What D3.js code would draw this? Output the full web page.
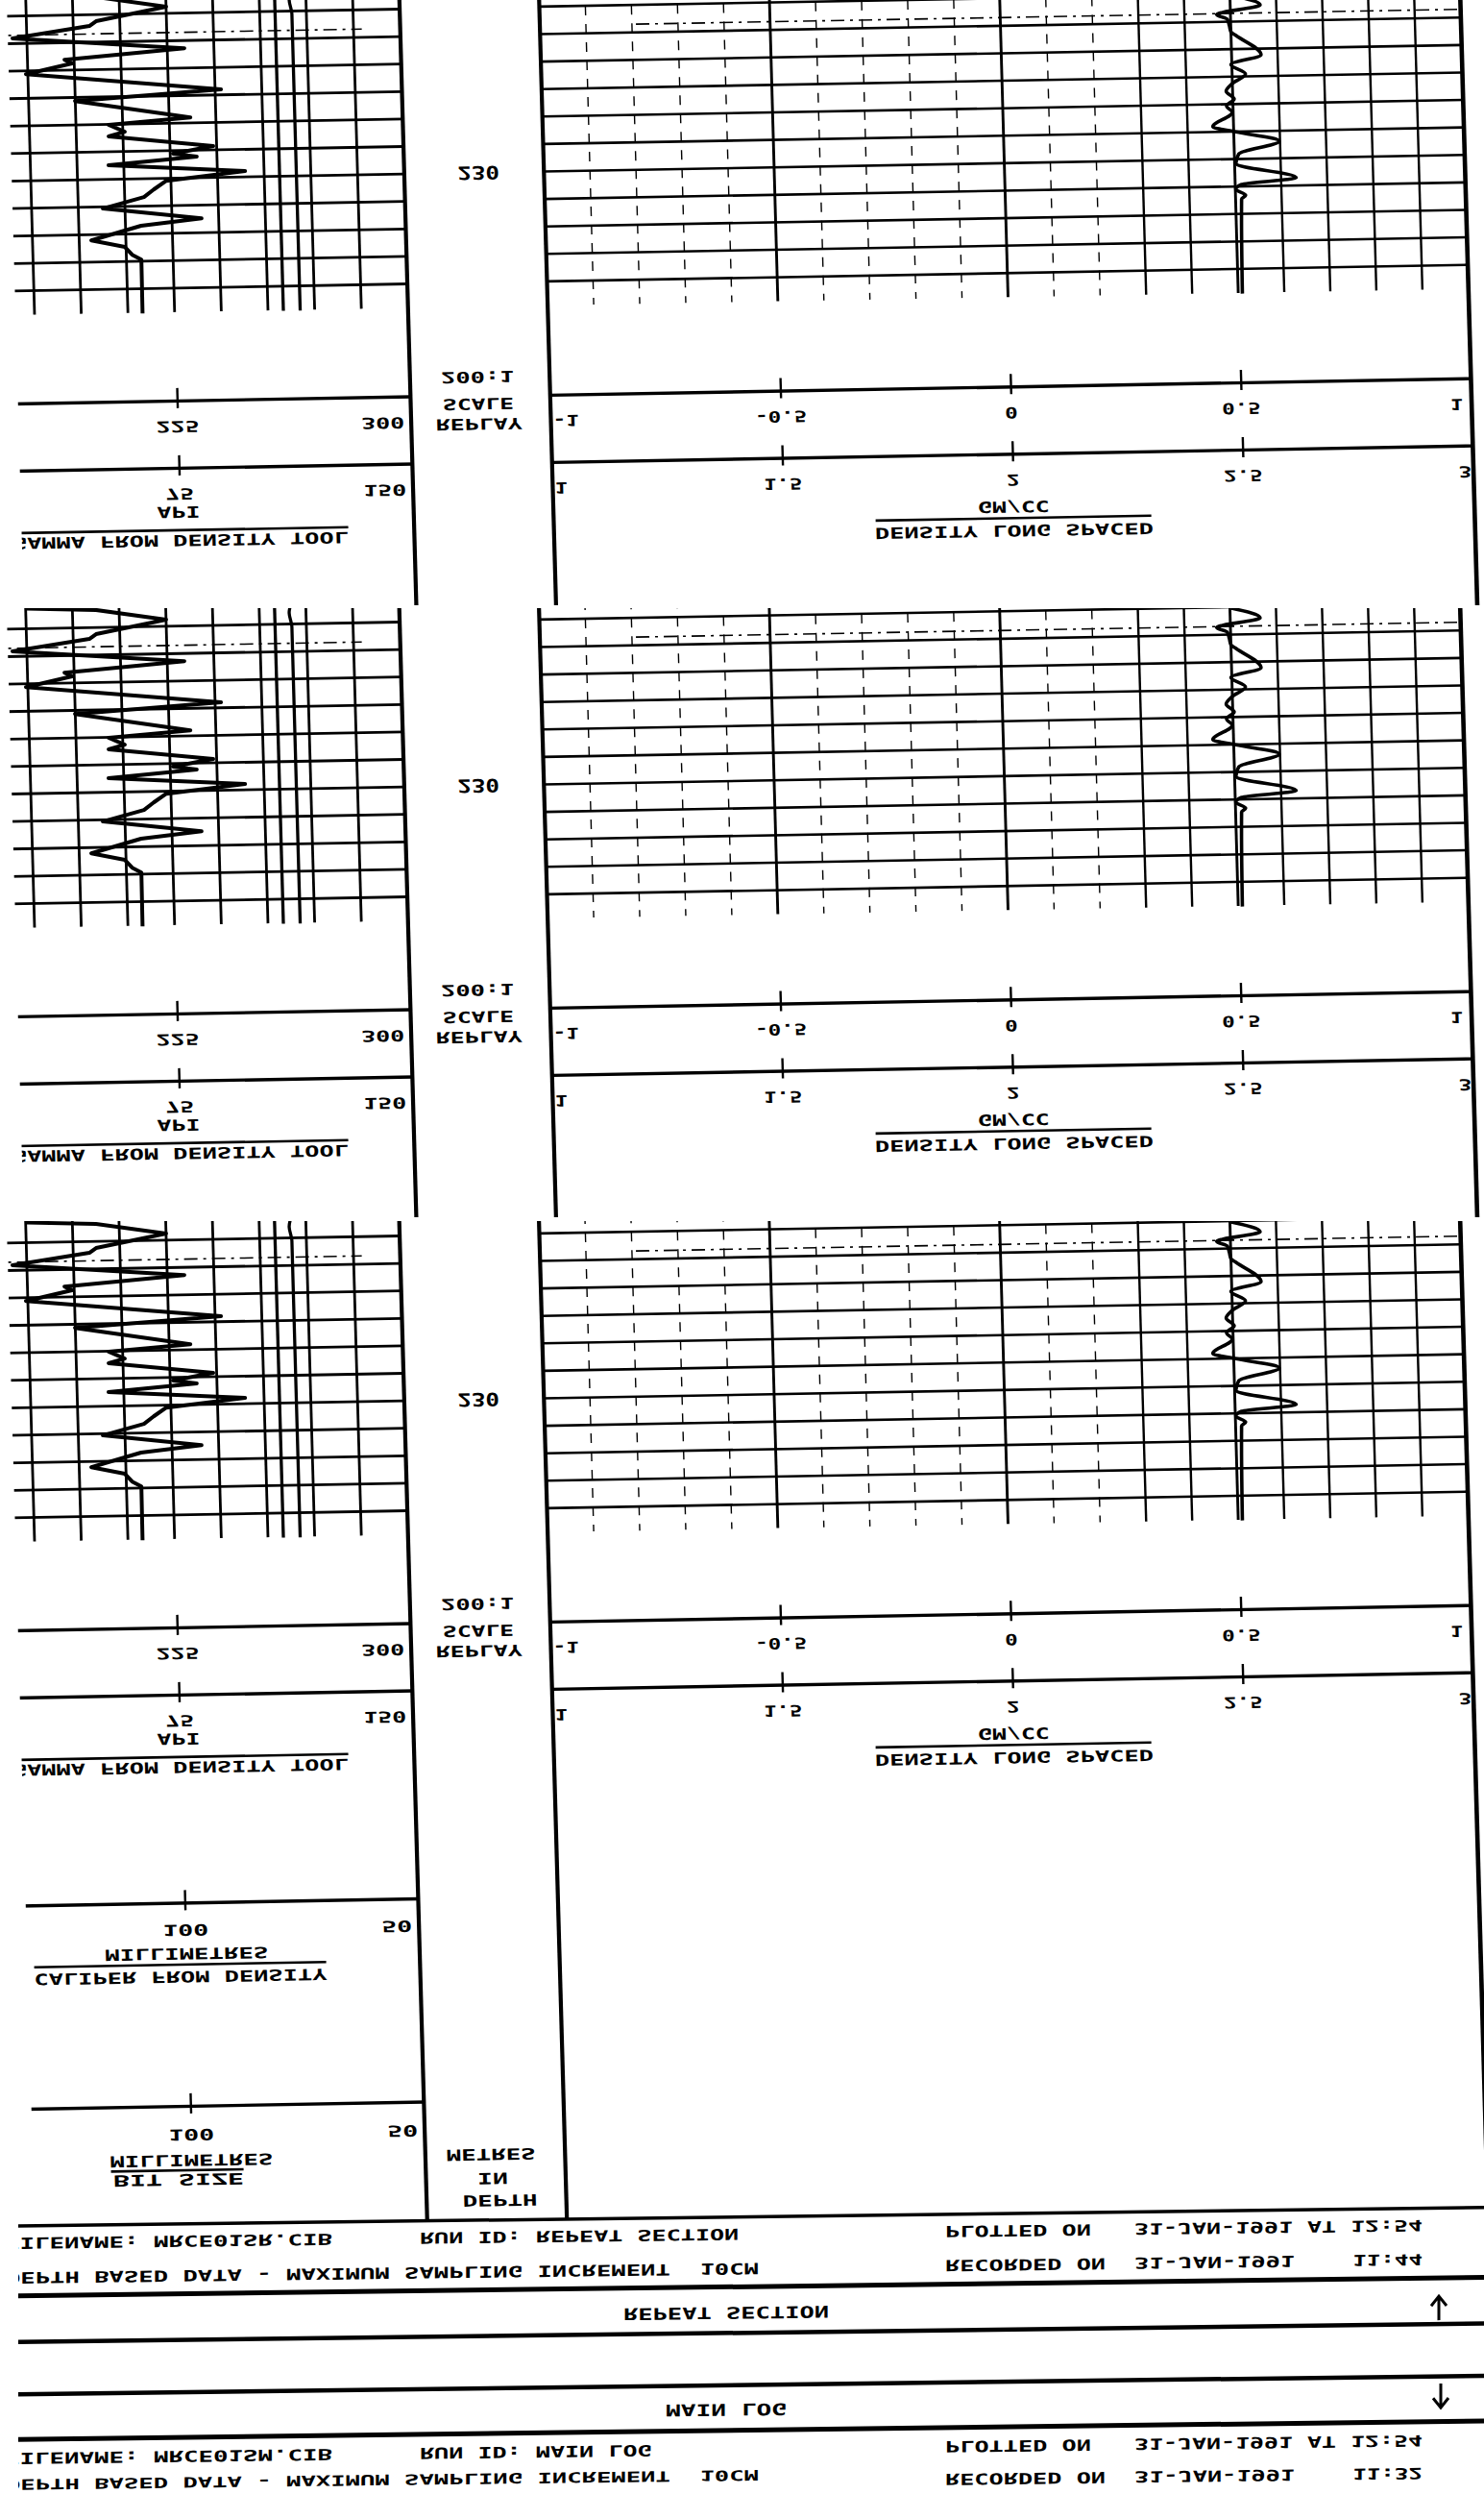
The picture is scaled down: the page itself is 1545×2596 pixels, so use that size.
<!DOCTYPE html>
<html><head><meta charset="utf-8">
<script src="https://cdn.jsdelivr.net/npm/d3@7"></script>
<style>body{margin:0;background:#fff}svg{display:block}text{white-space:pre}</style>
</head><body>
<svg id="c" width="1545" height="2596"></svg>
<script>
// ---------------- DATA ----------------
// Gamma ray from density tool (API) versus depth (m)
const gammaDepth = [236.73,236.64,236.24,235.76,235.59,235.19,234.72,234.38,234.24,233.88,233.20,232.87,232.20,231.98,231.72,231.56,231.14,230.89,230.77,230.51,230.21,229.91,229.60,229.33,228.94,228.52,228.29,227.79,227.53,227.24,227.06,225.10];
const gammaAPI   = [30.4,52.6,75.0,52.4,50.2,25.4,80.5,41.9,44.3,29.4,91.9,44.9,81.8,55.5,60.6,55.4,88.9,75.9,83.5,55.1,98.9,73.5,69.4,66.2,52.9,84.5,65.0,48.9,59.6,61.9,64.8,64.7];
// Density long spaced (GM/CC) versus depth (m)
const densDepth = [235.96,235.59,235.27,235.09,234.85,234.63,234.49,233.78,233.44,233.09,232.74,232.47,232.19,231.94,231.70,231.19,230.99,230.62,230.19,229.84,229.28,229.07,228.90,228.68,228.54,225.10];
const densGMCC  = [2.503,2.565,2.470,2.493,2.497,2.500,2.511,2.564,2.498,2.529,2.499,2.486,2.503,2.486,2.498,2.455,2.505,2.598,2.510,2.503,2.633,2.514,2.501,2.522,2.513,2.509];
// Caliper and bit size (mm)
const caliperDepth = [236.9,236.4,235.9,225.1];
const caliperMM    = [72.8,73.6,73.1,73.1];
const bitDepth = [236.9,225.1];
const bitMM    = [76.7,76.7];
// depth annotation
const depthLabelValue = 230;
const depthGrid = [226,227,228,229,230,231,232,233,234,235,236];
const markerDepth = 235.3;
// scale tick values and labels
const gammaTicks = [75,150], gammaLabels = ['75','150'];
const gammaBTicks = [225,300], gammaBLabels = ['225','300'];
const drhoTicks = [-1,-0.5,0,0.5,1], drhoLabels = ['-1','-0.5','0','0.5','1'];
const densTicks = [1,1.5,2,2.5,3], densLabels = ['1','1.5','2','2.5','3'];
const calTicks = [100,50], calLabels = ['100','50'];
const bitTicks = [100,50], bitLabels = ['100','50'];
const depthHeader = ['200:1','SCALE','REPLAY'];
const gammaTitle = 'GAMMA FROM DENSITY TOOL', gammaUnit = 'API';
const densTitle = 'DENSITY LONG SPACED', densUnit = 'GM/CC';
const calTitle = 'CALIPER FROM DENSITY', bitTitle = 'BIT SIZE', mmUnit = 'MILLIMETRES';
const depthUnits = ['METRES','IN','DEPTH'];
const infoRepeat = ['FILENAME: MRCE01SR.CIB','RUN ID: REPEAT SECTION','PLOTTED ON','31-JAN-1991 AT 12:54','DEPTH BASED DATA - MAXIMUM SAMPLING INCREMENT  10CM','RECORDED ON','31-JAN-1991','11:44'];
const infoMain   = ['FILENAME: MRCE01SM.CIB','RUN ID: MAIN LOG','PLOTTED ON','31-JAN-1991 AT 12:54','DEPTH BASED DATA - MAXIMUM SAMPLING INCREMENT  10CM','RECORDED ON','31-JAN-1991','11:32'];
const sectionTitles = ['REPEAT SECTION','MAIN LOG'];

// ---------------- LAYOUT ----------------
const W = 1545, H = 2596;
const SHX = 0.028, SHY = -0.018;
const T1L = -70.4, T1R = 415.6, T2L = 561, T2R = 1519.6, CLIPX = 7;
const panels = [
  {off:0,    top:-80,  bottom:630,  full:false},
  {off:638,  top:633,  bottom:1267, full:false},
  {off:1277, top:1271, bottom:2311, full:true}
];

const yScale = d3.scaleLinear().domain([230,229]).range([188.6,217.2]);
const xGamma = d3.scaleLinear().domain([0,150]).range([T1L,T1R]);
const xGammaB = d3.scaleLinear().domain([150,300]).range([T1L,T1R]);
const xDens = d3.scaleLinear().domain([1,3]).range([T2L,T2R]);
const xDrho = d3.scaleLinear().domain([-1,1]).range([T2L,T2R]);
const xCal = d3.scaleLinear().domain([150,50]).range([T1L,T1R]);

const svg = d3.select('#c');
svg.append('rect').attr('width',W).attr('height',H).attr('fill','#fff');
const defs = svg.append('defs');
defs.append('clipPath').attr('id','lclip').append('rect')
  .attr('x',CLIPX).attr('y',-3000).attr('width',4000).attr('height',9000);

function ln(g,x1,y1,x2,y2,w,dash){
  const l = g.append('line').attr('x1',x1).attr('y1',y1).attr('x2',x2).attr('y2',y2)
    .attr('stroke','#000').attr('stroke-width',w).attr('stroke-linecap','butt');
  if(dash) l.attr('stroke-dasharray',dash);
  return l;
}
// vertically mirrored text (as in the reference)
function ftext(g,str,x,y,opt={}){
  const size = opt.size||16, cw = opt.cw||15, anchor = opt.anchor||'middle';
  const len = opt.len || str.length*cw;
  const x0 = anchor==='middle' ? x-len/2 : anchor==='end' ? x-len : x;
  g.append('text')
    .attr('transform',`translate(${x0},${y}) scale(1,-1)`)
    .attr('x',0).attr('y',0)
    .attr('dominant-baseline','central')
    .attr('xml:space','preserve')
    .attr('font-family','DejaVu Sans Mono, monospace')
    .attr('font-weight','bold')
    .attr('font-size',size)
    .attr('fill','#000')
    .attr('textLength',len).attr('lengthAdjust','spacingAndGlyphs')
    .text(str);
}
function scaleLine(g,scale,y,ticks){
  const ax = d3.axisBottom(scale).tickValues(ticks).tickSizeInner(8).tickSizeOuter(0).tickFormat('');
  const a = g.append('g').attr('transform',`translate(0,${y})`).call(ax);
  a.select('.domain').attr('stroke','#000').attr('stroke-width',3.4);
  a.selectAll('.tick line').attr('y1',-13).attr('y2',8).attr('stroke','#000').attr('stroke-width',2.4);
}
function scaleLabels(g,scale,ticks,labels,y,lo,hi,opt={}){
  ticks.forEach((v,i)=>{
    const x = scale(v);
    if (Math.abs(x-lo)<1) ftext(g,labels[i],lo+2,y,{anchor:'start',cw:opt.cw||13});
    else if (Math.abs(x-hi)<1) ftext(g,labels[i],hi-(opt.endPad||7),y,{anchor:'end',cw:opt.cw||14});
    else ftext(g,labels[i],x,y,{cw:opt.cw||14});
  });
}

function drawPanel(g, full){
  const gTop = -40, gBot = 328;
  // ---- track 1 grid ----
  d3.range(15,150,15).forEach(v=> ln(g,xGamma(v),gTop,xGamma(v),gBot,2.8));
  depthGrid.forEach(d=>{
    ln(g,T1L,yScale(d),T1R,yScale(d),2.8);
    ln(g,T2L,yScale(d),T2R,yScale(d),2.6);
  });
  // marker line (tracks only)
  ln(g,T1L,yScale(markerDepth),T1R-40,yScale(markerDepth),1.6,'14,6,3,6');
  ln(g,T2L+100,yScale(markerDepth),T2R,yScale(markerDepth),1.6,'14,6,3,6');
  // ---- tracks 2/3 grid ----
  d3.range(1.1,3.0,0.1).forEach(v=>{
    const vv = Math.round(v*10)/10;
    const major = Math.abs(vv-1.5)<1e-6 || Math.abs(vv-2)<1e-6 || Math.abs(vv-2.5)<1e-6;
    if (major) ln(g,xDens(vv),gTop,xDens(vv),gBot,2.9);
    else if (vv < 2.25) ln(g,xDens(vv),gTop,xDens(vv),gBot,1.4,'10,9');
    else ln(g,xDens(vv),gTop,xDens(vv),gBot,2.4);
  });
  // ---- curves ----
  const gLine = d3.line().x(i=>xGamma(gammaAPI[i])).y(i=>yScale(gammaDepth[i]));
  g.append('path').attr('d',gLine(d3.range(gammaDepth.length)))
    .attr('fill','none').attr('stroke','#000').attr('stroke-width',4).attr('stroke-linejoin','round');
  const cLine = d3.line().x(i=>xCal(caliperMM[i])).y(i=>yScale(caliperDepth[i])).curve(d3.curveMonotoneY);
  g.append('path').attr('d',cLine(d3.range(caliperDepth.length)))
    .attr('fill','none').attr('stroke','#000').attr('stroke-width',3.3);
  const bLine = d3.line().x(i=>xCal(bitMM[i])).y(i=>yScale(bitDepth[i]));
  g.append('path').attr('d',bLine(d3.range(bitDepth.length)))
    .attr('fill','none').attr('stroke','#000').attr('stroke-width',3.3);
  const dLine = d3.line().x(i=>xDens(densGMCC[i])).y(i=>yScale(densDepth[i])).curve(d3.curveMonotoneY);
  g.append('path').attr('d',dLine(d3.range(densDepth.length)))
    .attr('fill','none').attr('stroke','#000').attr('stroke-width',3.6).attr('stroke-linejoin','round');
  // ---- track borders ----
  ln(g,T1R,gTop,T1R,1100,4.2);
  ln(g,T2L,gTop,T2L,1100,4.2);
  ln(g,T2R,gTop,T2R,1100,4.6);
  // depth number
  ftext(g,String(depthLabelValue),493,189,{size:19,cw:14.5});
  // ---- header: gamma ----
  scaleLine(g,xGammaB,420,[225]);
  scaleLine(g,xGamma,490,[75]);
  scaleLabels(g,xGammaB,gammaBTicks,gammaBLabels,447,T1L,T1R,{cw:15});
  scaleLabels(g,xGamma,gammaTicks,gammaLabels,517,T1L,T1R,{cw:15});
  ftext(g,gammaUnit,171,536,{cw:15});
  ln(g,-2,555,347,555,2.6);
  ftext(g,gammaTitle,172,565.5,{len:350});
  // ---- header: density ----
  scaleLine(g,xDrho,421,[-0.5,0,0.5]);
  scaleLine(g,xDens,491,[1.5,2,2.5]);
  scaleLabels(g,xDrho,drhoTicks,drhoLabels,448,T2L,T2R,{cw:13.5,endPad:9});
  scaleLabels(g,xDens,densTicks,densLabels,518,T2L,T2R,{cw:13.5,endPad:2});
  ftext(g,densUnit,1040,546,{len:75});
  ln(g,896,558,1183,558,2.6);
  ftext(g,densTitle,1040,571,{len:290});
  // ---- header: depth track ----
  ftext(g,depthHeader[0],486,401,{len:76});
  ftext(g,depthHeader[1],486,429,{len:74});
  ftext(g,depthHeader[2],486,450,{len:90});
  if (full){
    scaleLine(g,xCal,706.5,[100]);
    scaleLabels(g,xCal,calTicks,calLabels,735,T1L,T1R,{cw:16});
    ftext(g,mmUnit,173,759.5,{len:170});
    ln(g,14,771,318,771,2.6);
    ftext(g,calTitle,166,783.5,{len:305});
    scaleLine(g,xCal,918,[100]);
    scaleLabels(g,xCal,bitTicks,bitLabels,948,T1L,T1R,{cw:16});
    ftext(g,mmUnit,172,974.5,{len:170});
    ln(g,88,985,226,985,2.6);
    ftext(g,bitTitle,158,994.5,{len:136});
    ftext(g,depthUnits[0],484,974,{len:93});
    ftext(g,depthUnits[1],485,999,{len:32});
    ftext(g,depthUnits[2],492,1022,{len:78});
  }
}

panels.forEach((p,i)=>{
  defs.append('clipPath').attr('id','pc'+i).append('rect')
    .attr('x',0).attr('y',p.top).attr('width',W).attr('height',p.bottom-p.top);
  const outer = svg.append('g').attr('clip-path',`url(#pc${i})`);
  const sh = outer.append('g').attr('transform',`matrix(1,${SHY},${SHX},1,0,${p.off})`);
  const g = sh.append('g').attr('clip-path','url(#lclip)');
  drawPanel(g,p.full);
});

// ---------------- INFO BOX ----------------
defs.append('clipPath').attr('id','iclip').append('rect').attr('x',19).attr('y',2000).attr('width',2000).attr('height',1000);
const info = svg.append('g').attr('transform','matrix(1,-0.0126,0,1,0,0)').append('g').attr('clip-path','url(#iclip)');
[[2317.3,3.5],[2390,5],[2438,4.5],[2492.4,4.5],[2539.4,5]].forEach(([u,w])=>ln(info,19,u,1560,u,w));
function infoRows(arr,u1,u2L,u2R,size2){
  ftext(info,arr[0],5,u1,{anchor:'start',len:341});
  ftext(info,arr[1],437,u1,{anchor:'start',len:arr[1].length*15.1});
  ftext(info,arr[2],984,u1,{anchor:'start',len:152});
  ftext(info,arr[3],1181,u1,{anchor:'start',len:300});
  ftext(info,arr[4],6,u2L,{anchor:'start',len:784,size:size2||16});
  ftext(info,arr[5],984,u2R,{anchor:'start',len:167});
  ftext(info,arr[6],1181,u2R,{anchor:'start',len:167});
  ftext(info,arr[7],1408,u2R,{anchor:'start',len:73});
}
infoRows(infoRepeat,2335,2371,2370.5);
infoRows(infoMain,2559,2586,2593,15);
ftext(info,sectionTitles[0],756,2417,{len:214,size:17});
ftext(info,sectionTitles[1],756,2517.8,{len:126,size:17});
// arrows
info.append('path').attr('d','M1498,2434 L1498,2410 M1490,2419 L1498,2409 L1506,2419')
  .attr('fill','none').attr('stroke','#000').attr('stroke-width',3);
info.append('path').attr('d','M1500,2500 L1500,2524 M1492,2515 L1500,2525 L1508,2515')
  .attr('fill','none').attr('stroke','#000').attr('stroke-width',3);
</script>
</body></html>
